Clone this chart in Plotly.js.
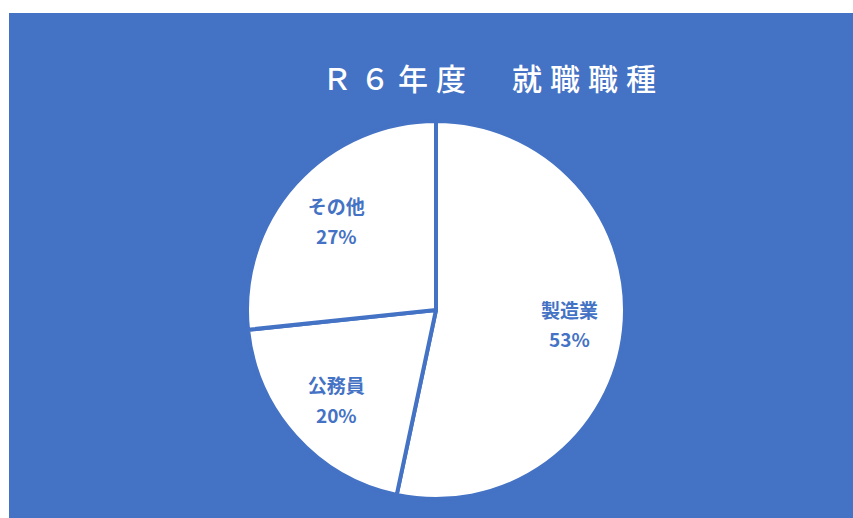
<!DOCTYPE html>
<html>
<head>
<meta charset="utf-8">
<script src="https://cdn.plot.ly/plotly-3.0.1.min.js"></script>
<style>
  html, body { margin: 0; padding: 0; background: #ffffff; width: 853px; height: 518px; overflow: hidden; }
  #chart { position: absolute; left: 9px; top: 13px; width: 844px; height: 505px; }
</style>
</head>
<body>
<div id="chart"></div>
<script>
const categories = ["製造業", "公務員", "その他"];
const counts = [16, 6, 8];
const chartTitle = "Ｒ６年度　就職職種";

const blue = "#4472C4";

const data = [{
  type: "pie",
  labels: categories,
  values: counts,
  sort: false,
  direction: "clockwise",
  rotation: 0,
  marker: { colors: ["#ffffff", "#ffffff", "#ffffff"], line: { color: blue, width: 4 } },
  textinfo: "none",
  hoverinfo: "none",
  showlegend: false
}, {
  type: "pie",
  labels: categories,
  values: counts,
  sort: false,
  direction: "clockwise",
  rotation: 0,
  hole: 0.42,
  marker: { colors: ["rgba(0,0,0,0)", "rgba(0,0,0,0)", "rgba(0,0,0,0)"], line: { width: 0 } },
  texttemplate: '<span style="font-size:19px">%{label}</span><br><span style="font-size:19px">%{percent:.0%}</span>',
  textposition: "inside",
  insidetextorientation: "horizontal",
  textfont: { family: "Noto Sans CJK JP, sans-serif", size: 23, color: blue, weight: "bold" },
  hoverinfo: "none",
  showlegend: false
}];

const layout = {
  width: 844,
  height: 505,
  paper_bgcolor: blue,
  plot_bgcolor: blue,
  margin: { l: 238, r: 228, t: 108, b: 19 },
  title: {
    text: '<span style="letter-spacing:8px">' + chartTitle + '</span>',
    x: 0.5735,
    xanchor: "center",
    y: 0.869,
    yanchor: "middle",
    font: { family: "Noto Sans CJK JP, sans-serif", size: 30, color: "#ffffff", weight: 500 }
  },
  showlegend: false
};

Plotly.newPlot("chart", data, layout, { displayModeBar: false, staticPlot: true });
</script>
</body>
</html>
